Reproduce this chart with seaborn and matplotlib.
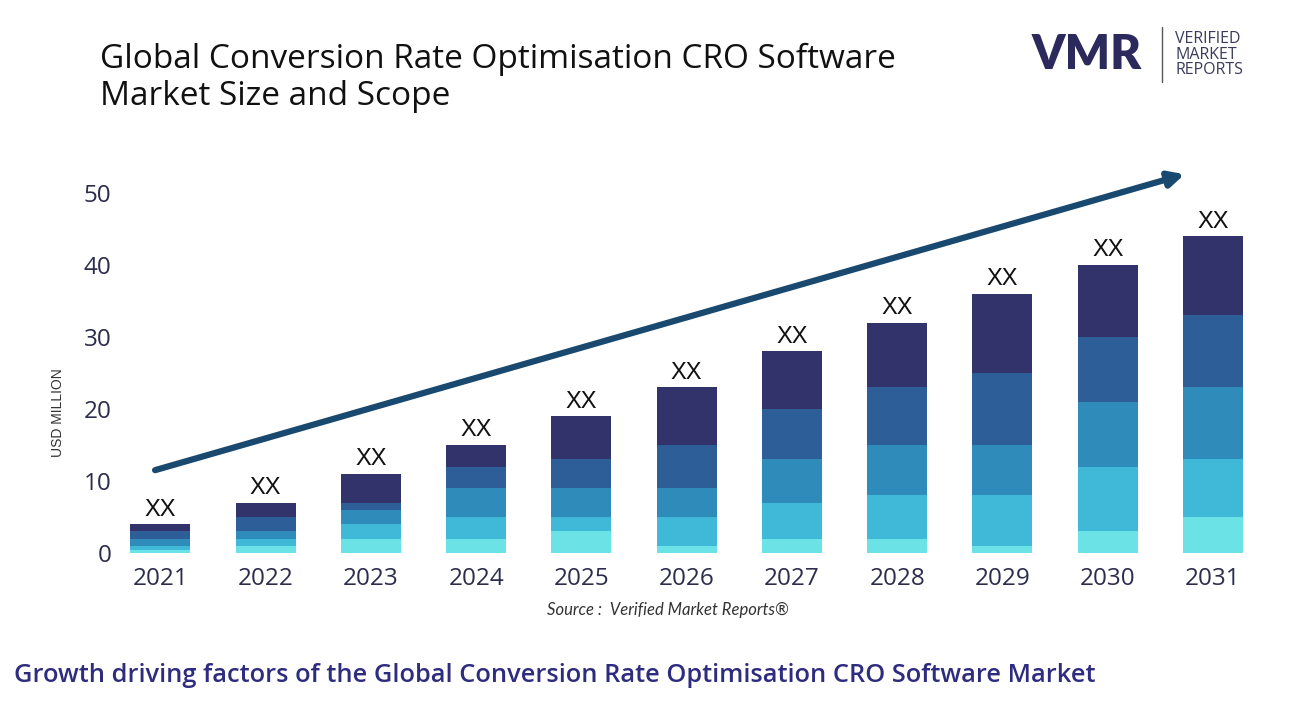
import matplotlib
matplotlib.use("Agg")
import matplotlib.pyplot as plt
import seaborn as sns
import numpy as np
import pandas as pd

years = ["2021", "2022", "2023", "2024", "2025", "2026", "2027", "2028", "2029", "2030", "2031"]
# segments, bottom to top
seg_cyan = [0.4, 1.0, 2, 2, 3, 1, 2, 2, 1, 3, 5]
seg_light = [0.6, 0.9, 2, 3, 2, 4, 5, 6, 7, 9, 8]
seg_mid = [1.0, 1.1, 2, 4, 4, 4, 6, 7, 7, 9, 10]
seg_blue = [1.0, 2.0, 1, 3, 4, 6, 7, 8, 10, 9, 10]
seg_navy = [1.0, 2.0, 4, 3, 6, 8, 8, 9, 11, 10, 11]
bar_labels = ["XX"] * len(years)
yticks = [0, 10, 20, 30, 40, 50]

layers = [seg_cyan, seg_light, seg_mid, seg_blue, seg_navy]
colors = ["#6be3e6", "#40b9d8", "#2e8bba", "#2e5e98", "#33336c"]

sns.set_style("white")
fig = plt.figure(figsize=(13.09, 7.02), dpi=100)
ax = fig.add_axes([0.0863, 0.2123, 0.8806, 0.5641])

cum = np.cumsum(np.array(layers), axis=0)
df = pd.DataFrame({"year": years})
# draw tallest cumulative first so lower layers sit on top of it
for i in range(len(layers) - 1, -1, -1):
    df["v"] = cum[i]
    sns.barplot(data=df, x="year", y="v", color=colors[i], saturation=1,
                width=0.57, ax=ax, linewidth=0)

totals = cum[-1]
for i, t in enumerate(totals):
    ax.text(i, t + 0.5, bar_labels[i], ha="center", va="bottom",
            fontsize=17, family="Liberation Sans", color="#111111")

ax.annotate("", xy=(9.73, 52.6), xytext=(-0.05, 11.5),
            arrowprops=dict(arrowstyle="-|>,head_length=0.9,head_width=0.45",
                            color="#19496f", lw=4.5, shrinkA=0, shrinkB=0),
            annotation_clip=False)

ax.set_xlim(-0.45, 10.5)
ax.set_ylim(0, 55)
ax.set_yticks(yticks)
ax.set_yticklabels([str(v) for v in yticks])
ax.set_xlabel("")
ax.set_ylabel("USD MILLION", fontsize=10, color="#333333",
              family="Liberation Sans")
ax.yaxis.set_label_coords(-0.042, 0.354)
for s in ax.spines.values():
    s.set_visible(False)
ax.tick_params(axis="both", length=0, labelsize=17.5, labelcolor="#2c2c4c")
ax.tick_params(axis="x", pad=10)
ax.tick_params(axis="y", pad=1)
for lab in ax.get_xticklabels() + ax.get_yticklabels():
    lab.set_family("Open Sans")

fig.text(0.0764, 0.915, "Global Conversion Rate Optimisation CRO Software",
         fontsize=24, family="Open Sans", color="#111111", va="center")
fig.text(0.0764, 0.862, "Market Size and Scope",
         fontsize=24, family="Open Sans", color="#111111", va="center")

fig.text(0.51, 0.131, "Source :  Verified Market Reports®", ha="center",
         va="center", fontsize=12, style="italic", family="Lato", color="#333333")

fig.text(0.011, 0.038, "Growth driving factors of the Global Conversion Rate Optimisation CRO Software Market",
         fontsize=18.3, family="Open Sans", weight="semibold", color="#2e2c7e", va="center")

# logo
fig.text(0.788, 0.922, "VMR", fontsize=34, weight="heavy", family="Lato",
         color="#2c2a5c", va="center")
fig.add_artist(plt.Line2D([0.8875, 0.8875], [0.883, 0.962], transform=fig.transFigure,
                          color="#555555", lw=1))
fig.text(0.898, 0.922, "VERIFIED\nMARKET\nREPORTS", fontsize=11.5, family="Open Sans",
         color="#3a3a5a", va="center", linespacing=0.95)

fig.savefig("out.png", dpi=100)
